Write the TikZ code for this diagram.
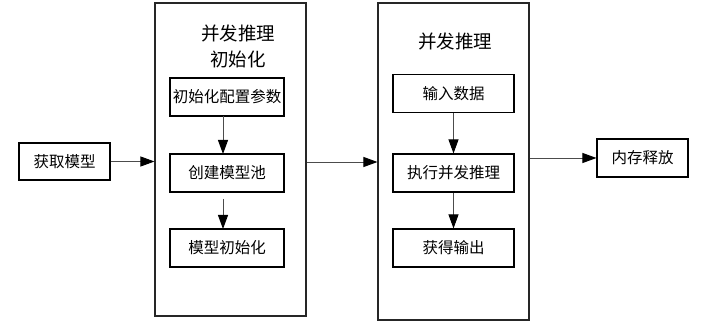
\documentclass[tikz,border=0pt]{standalone}
\usepackage{fontspec}
\newfontfamily\cjk{Noto Sans CJK SC}
\usetikzlibrary{arrows.meta}

\tikzset{
  box/.style={draw=black, line width=1.1pt, minimum width=114pt, minimum height=38pt, inner sep=0pt, font=\cjk\fontsize{15.5}{18}\selectfont},
  frame/.style={draw=black!85, line width=1.1pt, inner sep=0pt},
  ttl/.style={font=\cjk\fontsize{18.5}{26}\selectfont, align=center},
  arr/.style={draw=black!70, line width=0.9pt, -{Triangle[length=14pt,width=10pt,fill=black,color=black]}}
}

\begin{document}
\begin{tikzpicture}[x=1pt,y=-1pt]
	\useasboundingbox (0,0) rectangle (703,328);
	% outer frames
	\node[frame, minimum width=151pt, minimum height=313pt] (stageA) at (230.5,159.5) {};
	\node[frame, minimum width=151pt, minimum height=317pt] (stageB) at (453.5,161.5) {};
	\node[ttl] (ttlA) at (238,46) {并发推理\\初始化};
	\node[ttl] (ttlB) at (455,42) {并发推理};
	% outside boxes
	\node[box, minimum width=91pt, minimum height=37pt] (getmodel) at (64.5,161.5) {获取模型};
	\node[box, minimum width=91pt, minimum height=38pt] (freemem) at (642.5,158) {内存释放};
	% left stage
	\node[box] (cfg) at (227,97) {初始化配置参数};
	\node[box] (pool) at (227,173) {创建模型池};
	\node[box] (minit) at (227,248) {模型初始化};
	% right stage
	\node[box, minimum width=121pt] (indata) at (453.5,93.5) {输入数据};
	\node[box, minimum width=121pt] (run) at (453.5,173) {执行并发推理};
	\node[box, minimum width=121pt] (output) at (453.5,248) {获得输出};
	% connectors
	\draw[arr] (getmodel) -- (getmodel -| stageA.west);
	\draw[arr] (stageA.east |- 0,162) -- (stageB.west |- 0,162);
	\draw[arr] (freemem -| stageB.east) -- (freemem);
	\draw[arr] (223,116) -- (223,154);
	\draw[arr] (223,199) -- (223,229);
	\draw[arr] (indata) -- (run);
	\draw[arr] (run) -- (output);
\end{tikzpicture}
\end{document}
